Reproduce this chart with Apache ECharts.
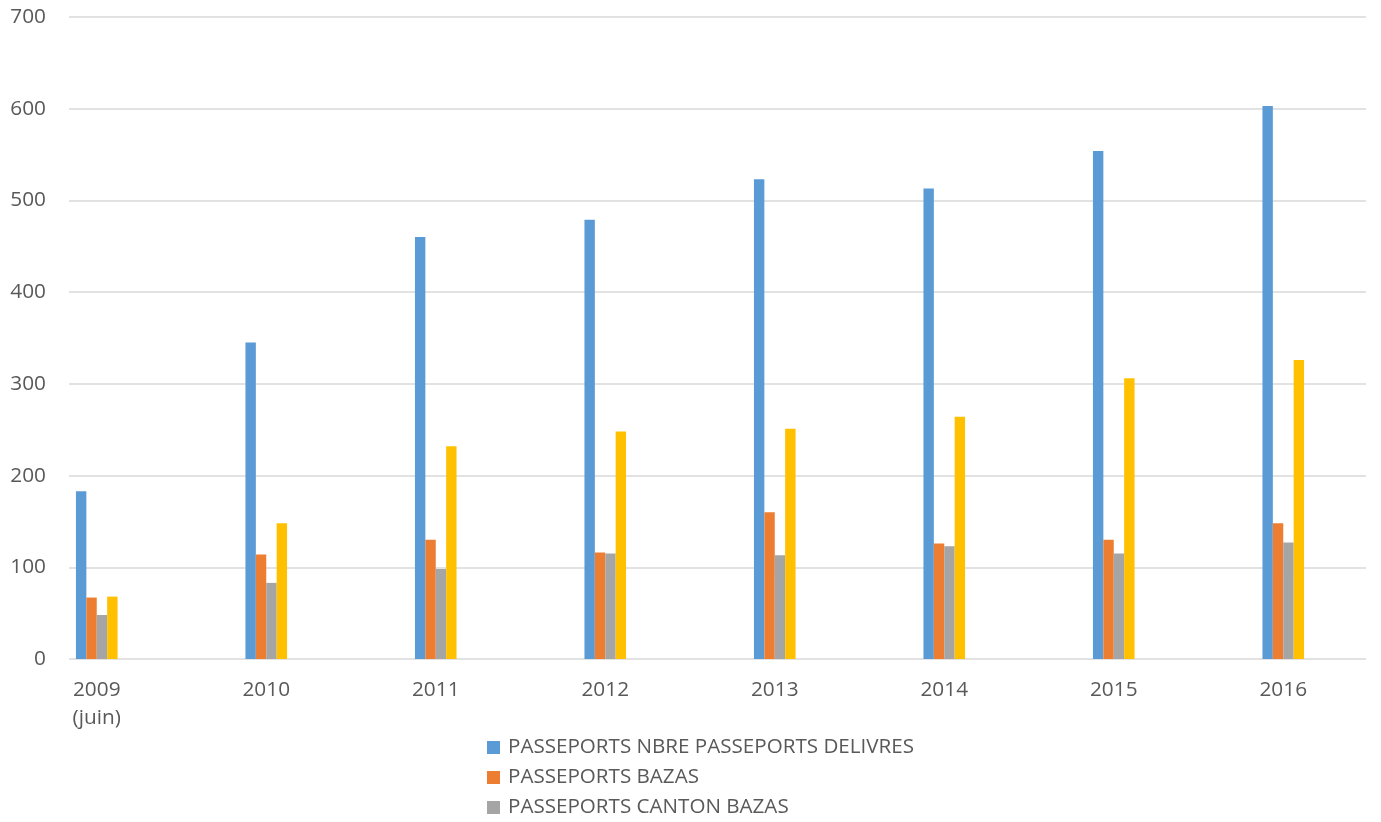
<!DOCTYPE html>
<html>
<head>
<meta charset="utf-8">
<script src="https://cdn.jsdelivr.net/npm/echarts@6/dist/echarts.min.js"></script>
<style>
html,body{margin:0;padding:0;background:#fff;}
#chart{width:1381px;height:822px;}
</style>
</head>
<body>
<div id="chart"></div>
<script>
const categories = ['2009\n(juin)', '2010', '2011', '2012', '2013', '2014', '2015', '2016'];
const seriesNames = ['PASSEPORTS NBRE PASSEPORTS DELIVRES', 'PASSEPORTS BAZAS', 'PASSEPORTS CANTON BAZAS', 'PASSEPORTS (4)'];
const nbreDelivres = [183, 345, 460, 479, 523, 513, 554, 603];
const bazas = [67, 114, 130, 116, 160, 126, 130, 148];
const cantonBazas = [48, 83, 98, 115, 113, 123, 115, 127];
const quatrieme = [68, 148, 232, 248, 251, 264, 306, 326];
const yTicks = { min: 0, max: 700, interval: 100 };
const colors = ['#5B9BD5', '#ED7D31', '#A5A5A5', '#FFC000'];

const font = 'Open Sans';
const textColor = '#595959';
const chart = echarts.init(document.getElementById('chart'), null, { renderer: 'canvas' });
const values = [nbreDelivres, bazas, cantonBazas, quatrieme];

chart.setOption({
  animation: false,
  backgroundColor: '#ffffff',
  color: colors,
  textStyle: { fontFamily: font },
  grid: [
    { left: 69, right: 15, top: 17, bottom: 163, containLabel: false },
    { left: 12, right: 13, top: 17, bottom: 163, containLabel: false }
  ],
  xAxis: [
    { gridIndex: 0, type: 'category', data: categories, show: false },
    {
      gridIndex: 1, type: 'category', data: categories,
      axisLine: { show: false }, axisTick: { show: false }, splitLine: { show: false },
      axisLabel: { color: textColor, fontSize: 20.8, fontFamily: font, margin: 17, lineHeight: 28, interval: 0 }
    }
  ],
  yAxis: [
    {
      gridIndex: 0, type: 'value', min: yTicks.min, max: yTicks.max, interval: yTicks.interval,
      axisLine: { show: false }, axisTick: { show: false },
      splitLine: { show: true, lineStyle: { color: '#D9D9D9', width: 1.5 } },
      axisLabel: { color: textColor, fontSize: 20.8, fontFamily: font, margin: 23 }
    },
    {
      gridIndex: 1, type: 'value', min: yTicks.min, max: yTicks.max, interval: yTicks.interval,
      show: false, splitLine: { show: false }
    }
  ],
  legend: {
    data: seriesNames.slice(0, 3),
    orient: 'vertical',
    left: 487,
    top: 737,
    padding: 0,
    itemWidth: 13,
    itemHeight: 13,
    itemGap: 9,
    icon: 'rect',
    textStyle: { color: textColor, fontSize: 20.6, fontFamily: font, lineHeight: 20, padding: [0, 0, 0, 3] }
  },
  series: values.map((v, i) => ({
    name: seriesNames[i],
    type: 'bar',
    xAxisIndex: 1,
    yAxisIndex: 1,
    data: v,
    barWidth: 10.4,
    barGap: '0%',
    itemStyle: { color: colors[i] }
  }))
});
</script>
</body>
</html>
